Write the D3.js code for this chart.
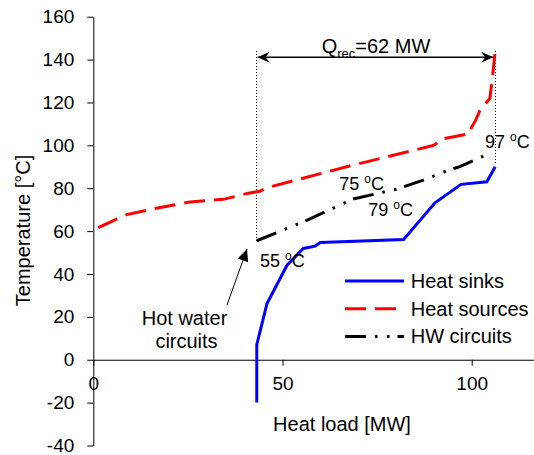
<!DOCTYPE html>
<html>
<head>
<meta charset="utf-8">
<script src="https://cdn.jsdelivr.net/npm/d3@7"></script>
<style>
  body { margin: 0; background: #fff; }
  svg { font-family: "Liberation Sans", Arial, sans-serif; }
</style>
</head>
<body>
<svg id="chart" width="534" height="455"></svg>
<script>
// composite curves: [heat load MW, temperature °C]
const heatSinks = [
  [43.2, -20], [43.2, 7], [45.9, 26.2], [51.2, 44.1], [55.5, 51.9],
  [58.6, 53], [60, 54.7], [82, 56.1], [90.3, 73.2], [97.2, 81.8],
  [104, 83], [106.2, 90]
];
const heatSources = [
  [1.3, 61.6], [8.8, 67.7], [17, 70.8], [25.6, 73.6], [34.4, 74.8],
  [41, 77.7], [44, 78.6], [46, 80.3], [68, 90.5], [89.5, 99.8],
  [90.3, 100.3], [91.8, 102.8], [99.4, 105.4], [100, 108.6], [101, 111.5],
  [102.2, 116.4], [104.8, 121.9], [105.4, 130.4], [106.2, 143.7]
];
const hwCircuits = [
  [43.2, 55.5], [56.4, 65], [68.7, 75], [80, 79.5], [87.2, 83.8],
  [92.9, 87.7], [97, 90.2], [103.7, 95.5]
];
const yTicks = [-40, -20, 0, 20, 40, 60, 80, 100, 120, 140, 160];
const xTicks = [0, 50, 100];
const legendNames = ["Heat sinks", "Heat sources", "HW circuits"];
// pinch limits for the Q_rec annotation
const qrecLeft = 42.9;
const qrecRight = 106.2;

const svg = d3.select('#chart');

const x = d3.scaleLinear().domain([0, 120]).range([93.3, 547.4]);
const y = d3.scaleLinear().domain([-40, 160]).range([445.5, 16.7]);

// arrowheads
const defs = svg.append('defs');
defs.append('marker')
  .attr('id', 'open-arrow')
  .attr('markerUnits', 'userSpaceOnUse')
  .attr('viewBox', '-13 -7 14 14')
  .attr('refX', 0).attr('refY', 0)
  .attr('markerWidth', 14).attr('markerHeight', 14)
  .attr('orient', 'auto-start-reverse')
  .append('path')
  .attr('d', 'M0,0 L-12,-5.5 L-8,0 L-12,5.5 Z')
  .attr('fill', '#000');
defs.append('marker')
  .attr('id', 'tri-arrow')
  .attr('markerUnits', 'userSpaceOnUse')
  .attr('viewBox', '-13 -7 14 14')
  .attr('refX', 0).attr('refY', 0)
  .attr('markerWidth', 14).attr('markerHeight', 14)
  .attr('orient', 'auto')
  .append('path')
  .attr('d', 'M0,0 L-12,-5.5 L-12,5.5 Z')
  .attr('fill', '#000');

// axes
const yAxis = svg.append('g')
  .attr('transform', `translate(${x(0)},0)`)
  .call(d3.axisLeft(y).tickValues(yTicks).tickFormat(d => String(d))
    .tickSize(6).tickSizeOuter(0).tickPadding(13));
const xAxis = svg.append('g')
  .attr('transform', `translate(0,${y(0)})`)
  .call(d3.axisBottom(x).tickValues(xTicks).tickFormat(d => String(d))
    .tickSize(6).tickSizeOuter(0).tickPadding(11));
[yAxis, xAxis].forEach(a => {
  a.selectAll('path, line').attr('stroke', '#000');
  a.selectAll('text').attr('font-size', 19).attr('fill', '#000')
    .attr('font-family', '"Liberation Sans", Arial, sans-serif');
});

// axis titles
svg.append('text')
  .attr('x', 342).attr('y', 431)
  .attr('text-anchor', 'middle').attr('font-size', 20)
  .text('Heat load [MW]');
svg.append('text')
  .attr('transform', 'translate(30,230.5) rotate(-90)')
  .attr('text-anchor', 'middle').attr('font-size', 20)
  .text('Temperature [°C]');

// curves
const line = d3.line().x(d => x(d[0])).y(d => y(d[1]));
const styles = [
  { data: heatSinks, color: '#0000ff', dash: null },
  { data: heatSources, color: '#ff0000', dash: '21,9' },
  { data: hwCircuits, color: '#000', dash: '21,9,2.5,9.5,2.5,8' }
];

// dotted limits
[[qrecLeft, 55.5], [qrecRight, 91]].forEach(([q0, bottom]) => {
  const px = Math.round(x(q0)) + 0.5;
  svg.append('line')
    .attr('x1', px).attr('x2', px)
    .attr('y1', y(144)).attr('y2', y(bottom))
    .attr('stroke', '#000').attr('stroke-width', 1)
    .attr('stroke-dasharray', '1,2')
    .attr('shape-rendering', 'crispEdges');
});

styles.forEach(s => {
  svg.append('path')
    .datum(s.data)
    .attr('d', line)
    .attr('fill', 'none')
    .attr('stroke', s.color)
    .attr('stroke-width', 3)
    .attr('stroke-dasharray', s.dash);
});

// Q_rec double arrow
svg.append('line')
  .attr('x1', x(qrecLeft) + 2).attr('x2', x(qrecRight) - 2)
  .attr('y1', 57.3).attr('y2', 57.3)
  .attr('stroke', '#000').attr('stroke-width', 1.5)
  .attr('marker-start', 'url(#open-arrow)')
  .attr('marker-end', 'url(#open-arrow)');
const q = svg.append('text').attr('x', 321.7).attr('y', 53).attr('font-size', 20);
q.append('tspan').text('Q');
q.append('tspan').attr('font-size', 13).attr('dy', 5).text('rec');
q.append('tspan').attr('dy', -5).text('=62 MW');

// temperature labels
const tempLabels = [
  { t: '55', px: 260, py: 266.7 },
  { t: '75', px: 339.3, py: 190 },
  { t: '79', px: 368.3, py: 216 },
  { t: '97', px: 485, py: 148.3 }
];
tempLabels.forEach(l => {
  const tx = svg.append('text').attr('x', l.px).attr('y', l.py).attr('font-size', 18);
  tx.append('tspan').text(l.t + ' ');
  tx.append('tspan').attr('font-size', 12).attr('dy', -7).text('o');
  tx.append('tspan').attr('dy', 7).text('C');
});

// hot water circuits callout
svg.append('line')
  .attr('x1', 227).attr('y1', 305).attr('x2', 247).attr('y2', 249)
  .attr('stroke', '#000').attr('stroke-width', 1)
  .attr('marker-end', 'url(#tri-arrow)');
svg.append('text').attr('x', 184.5).attr('y', 325).attr('text-anchor', 'middle')
  .attr('font-size', 20).text('Hot water');
svg.append('text').attr('x', 186.5).attr('y', 348.3).attr('text-anchor', 'middle')
  .attr('font-size', 20).text('circuits');

// legend
const legend = svg.append('g').attr('transform', 'translate(345,281)');
legendNames.forEach((name, i) => {
  const row = legend.append('g').attr('transform', `translate(0,${i * 27.8})`);
  row.append('line')
    .attr('x1', 0).attr('x2', 59).attr('y1', 0).attr('y2', 0)
    .attr('stroke', styles[i].color).attr('stroke-width', 3)
    .attr('stroke-dasharray', styles[i].dash);
  row.append('text').attr('x', 65.7).attr('y', 6.7).attr('font-size', 20).text(name);
});
</script>
</body>
</html>
